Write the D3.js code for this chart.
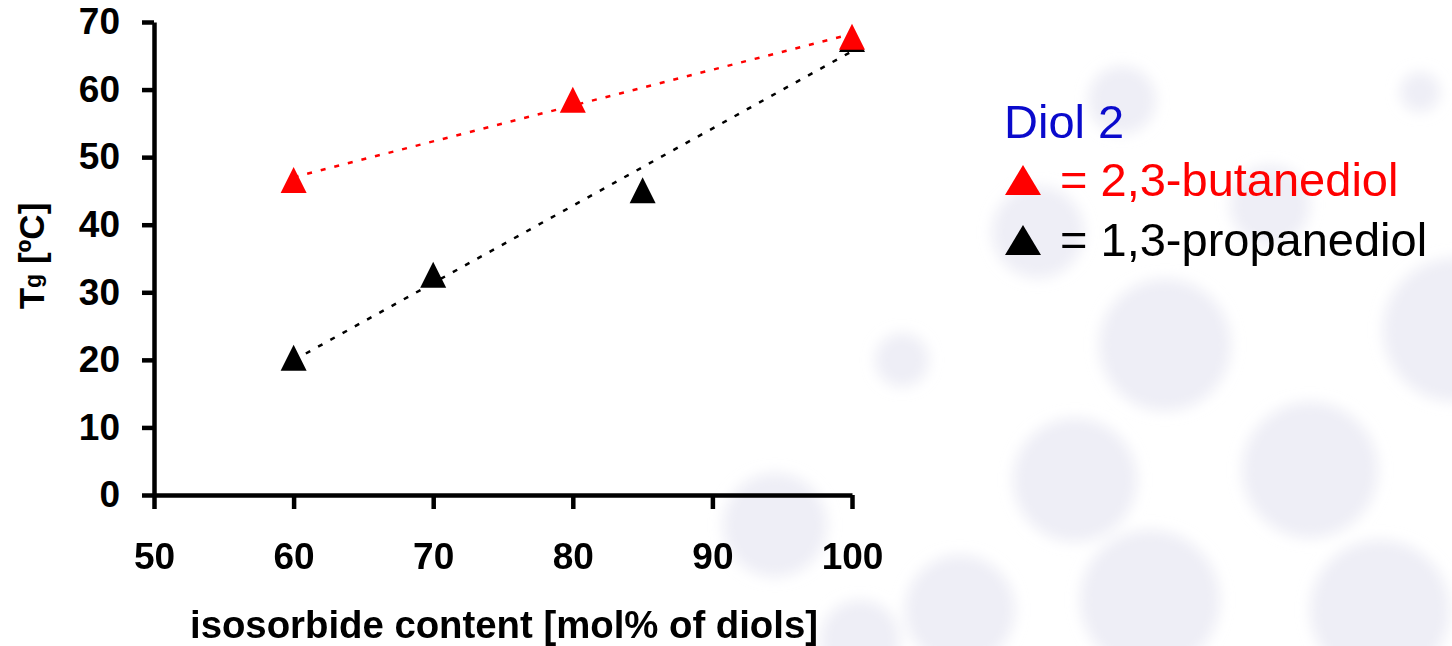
<!DOCTYPE html>
<html>
<head>
<meta charset="utf-8">
<script src="https://cdn.jsdelivr.net/npm/d3@7"></script>
<style>
  html, body { margin: 0; padding: 0; background: #fff; }
  svg { display: block; font-family: "Liberation Sans", Arial, sans-serif; }
</style>
</head>
<body>
<svg id="chart" width="1452" height="646"></svg>
<script>
// Data
let xTicks = [50, 60, 70, 80, 90, 100];
let yTicks = [0, 10, 20, 30, 40, 50, 60, 70];

// 2,3-butanediol
let butX = [60, 80, 100];
let butY = [46.6, 58.5, 67.8];

// 1,3-propanediol (point at 100 hides under the red one)
let propX = [60, 70, 85, 100];
let propY = [20.3, 32.6, 45.1, 67.5];

let legendNames = ['= 2,3-butanediol', '= 1,3-propanediol'];
let legendColors = ['#ff0000', '#000000'];

// decoration: soft lavender blobs of the slide background
let bgBlobs = [
  [1420, 92, 20], [1122, 100, 34], [1038, 232, 46], [1270, 205, 40],
  [902, 360, 27], [1165, 345, 66], [1455, 330, 72], [775, 525, 52],
  [1075, 480, 62], [1310, 470, 68], [960, 610, 55], [1150, 600, 70],
  [1380, 610, 70], [860, 640, 40]
];

let svg = d3.select('#chart');

let defs = svg.append('defs');
defs.append('filter').attr('id', 'soft')
    .attr('x', '-20%').attr('y', '-20%').attr('width', '140%').attr('height', '140%')
    .append('feGaussianBlur').attr('stdDeviation', 7);

svg.append('g')
    .attr('filter', 'url(#soft)')
    .selectAll('circle')
    .data(bgBlobs)
    .join('circle')
    .attr('cx', d => d[0])
    .attr('cy', d => d[1])
    .attr('r', d => d[2])
    .attr('fill', '#e3e3f0')
    .attr('opacity', 0.6);

let x = d3.scaleLinear().domain([50, 100]).range([154, 852]);
let y = d3.scaleLinear().domain([0, 70]).range([495, 22]);

// Axes
let yAxis = svg.append('g')
    .attr('transform', 'translate(154,0)')
    .call(d3.axisLeft(y).tickValues(yTicks).tickSize(12).tickSizeOuter(0).tickPadding(22));

let xAxis = svg.append('g')
    .attr('transform', 'translate(0,495)')
    .call(d3.axisBottom(x).tickValues(xTicks).tickSize(14).tickSizeOuter(0).tickPadding(34));

[xAxis, yAxis].forEach(function (ax) {
    ax.select('.domain').attr('stroke', '#000').attr('stroke-width', 4.5);
    ax.selectAll('.tick line').attr('stroke', '#000').attr('stroke-width', 4.5);
    ax.selectAll('.tick text')
        .attr('fill', '#000')
        .style('font-family', '"Liberation Sans", Arial, sans-serif')
        .style('font-size', '37px')
        .style('font-weight', 'bold');
});

// Axis titles
svg.append('text')
    .attr('x', 504)
    .attr('y', 638)
    .attr('text-anchor', 'middle')
    .attr('textLength', 628)
    .attr('lengthAdjust', 'spacingAndGlyphs')
    .style('font-size', '38px')
    .style('font-weight', 'bold')
    .text('isosorbide content [mol% of diols]');

let yTitle = svg.append('text')
    .attr('transform', 'translate(44,256) rotate(-90)')
    .attr('text-anchor', 'middle')
    .style('font-size', '35px')
    .style('font-weight', 'bold');
yTitle.append('tspan').text('T');
yTitle.append('tspan').style('font-size', '23px').attr('dy', -3).text('g');
yTitle.append('tspan').attr('dy', 3).text(' [ºC]');

// Linear trend lines
function trend(xs, ys) {
    let mx = d3.mean(xs), my = d3.mean(ys);
    let sxy = d3.sum(xs, (v, i) => (v - mx) * (ys[i] - my));
    let sxx = d3.sum(xs, v => (v - mx) * (v - mx));
    let b = sxy / sxx, a = my - b * mx;
    let ext = d3.extent(xs);
    return ext.map(v => [v, a + b * v]);
}

let line = d3.line().x(d => x(d[0])).y(d => y(d[1]));

svg.append('path')
    .attr('d', line(trend(propX, propY)))
    .attr('fill', 'none')
    .attr('stroke', '#000')
    .attr('stroke-width', 2.5)
    .attr('stroke-dasharray', '5,9');

svg.append('path')
    .attr('d', line(trend(butX, butY)))
    .attr('fill', 'none')
    .attr('stroke', '#ff0000')
    .attr('stroke-width', 2.5)
    .attr('stroke-dasharray', '5,9');

// Triangle markers
function tri(w, h) {
    return 'M0,' + (-h / 2) + 'L' + (w / 2) + ',' + (h / 2) + 'L' + (-w / 2) + ',' + (h / 2) + 'Z';
}

svg.append('g').selectAll('path')
    .data(propX.map((v, i) => [v, propY[i]]))
    .join('path')
    .attr('d', tri(26, 26))
    .attr('transform', d => 'translate(' + x(d[0]) + ',' + y(d[1]) + ')')
    .attr('fill', '#000');

svg.append('g').selectAll('path')
    .data(butX.map((v, i) => [v, butY[i]]))
    .join('path')
    .attr('d', tri(26, 26))
    .attr('transform', d => 'translate(' + x(d[0]) + ',' + y(d[1]) + ')')
    .attr('fill', '#ff0000');

// Legend
let legend = svg.append('g').style('font-size', '47px');

legend.append('text')
    .attr('x', 1004)
    .attr('y', 138)
    .attr('fill', '#0a0acc')
    .text('Diol 2');

legendNames.forEach(function (name, i) {
    let cy = 180 + i * 60;
    legend.append('path')
        .attr('d', tri(36, 30))
        .attr('transform', 'translate(1023,' + cy + ')')
        .attr('fill', legendColors[i]);
    legend.append('text')
        .attr('x', 1060)
        .attr('y', cy + 16)
        .attr('fill', legendColors[i])
        .text(name);
});
</script>
</body>
</html>
